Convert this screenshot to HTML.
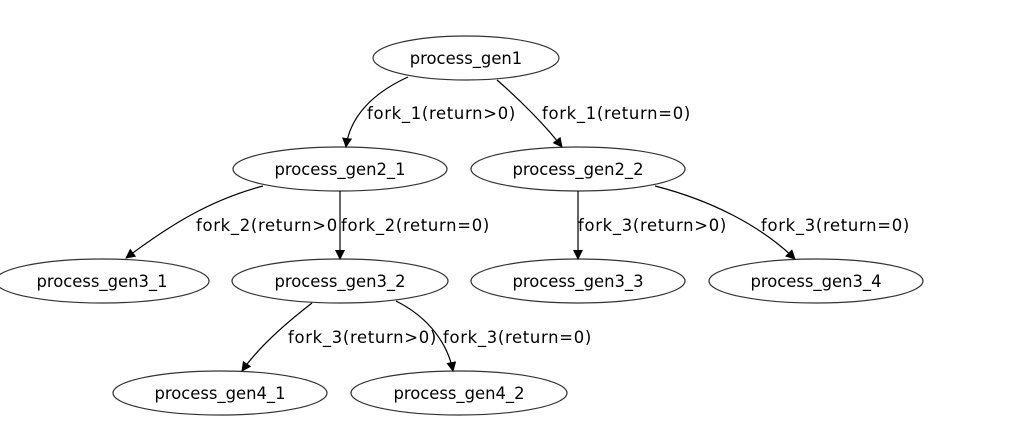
<!DOCTYPE html>
<html><head><meta charset="utf-8"><style>
html,body{margin:0;padding:0;background:#fff;}
svg{display:block;}
text{font-family:"DejaVu Sans","Liberation Sans",sans-serif;font-size:16.4px;fill:#000;}
text.l{letter-spacing:0.7px;}
</style></head><body>
<svg width="1027" height="445" viewBox="0 0 1027 445" xmlns="http://www.w3.org/2000/svg">
<defs><marker id="a" markerWidth="10" markerHeight="10" refX="9" refY="5" orient="auto" markerUnits="userSpaceOnUse"><path d="M0,0 L10,5 L0,10 z" fill="#000"/></marker></defs>
<g fill="none" stroke="#333" stroke-width="1.2">
<ellipse cx="466" cy="58" rx="93" ry="22"/>
<ellipse cx="340" cy="169" rx="107" ry="22"/>
<ellipse cx="578" cy="169" rx="107" ry="22"/>
<ellipse cx="102" cy="281" rx="107" ry="22"/>
<ellipse cx="340" cy="281" rx="108" ry="22"/>
<ellipse cx="578" cy="281" rx="107" ry="22"/>
<ellipse cx="816" cy="281" rx="107" ry="22"/>
<ellipse cx="220" cy="393" rx="107" ry="22"/>
<ellipse cx="459" cy="393" rx="108" ry="22"/>
</g>
<g fill="none" stroke="#000" stroke-width="1.2" marker-end="url(#a)">
<path d="M408,77 C375,92 350,115 346,147"/>
<path d="M497,80 C520,100 545,125 562,147"/>
<path d="M263,186 C210,200 170,225 126,258"/>
<path d="M340,191 L340,259"/>
<path d="M578,191 L578,259"/>
<path d="M655,186 C710,200 760,225 795,259"/>
<path d="M312,303 C290,320 260,345 242,371"/>
<path d="M396,301 C430,318 448,345 453,371"/>
</g>
<text class="l" x="367" y="119">fork_1(return&gt;0)</text>
<text class="l" x="542" y="119">fork_1(return=0)</text>
<text class="l" x="196" y="231">fork_2(return&gt;0</text>
<text class="l" x="341" y="231">fork_2(return=0)</text>
<text class="l" x="578" y="231">fork_3(return&gt;0)</text>
<text class="l" x="761" y="231">fork_3(return=0)</text>
<text class="l" x="288" y="343">fork_3(return&gt;0)</text>
<text class="l" x="443" y="343">fork_3(return=0)</text>
<g text-anchor="middle">
<text x="466" y="64">process_gen1</text>
<text x="340" y="175">process_gen2_1</text>
<text x="578" y="175">process_gen2_2</text>
<text x="102" y="287">process_gen3_1</text>
<text x="340" y="287">process_gen3_2</text>
<text x="578" y="287">process_gen3_3</text>
<text x="816" y="287">process_gen3_4</text>
<text x="220" y="399">process_gen4_1</text>
<text x="459" y="399">process_gen4_2</text>
</g>
</svg>
</body></html>
